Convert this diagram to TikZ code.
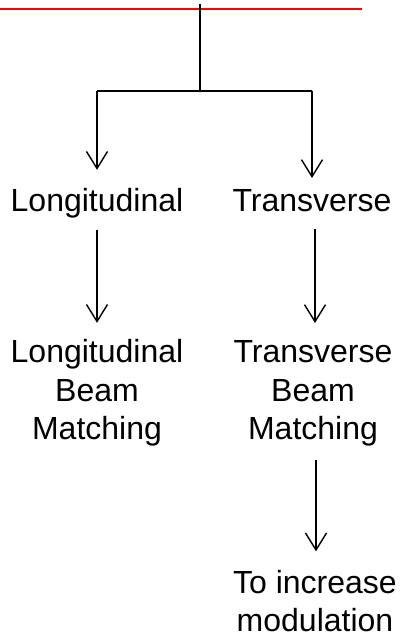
\documentclass[tikz,border=0pt]{standalone}
\usepackage{fontspec}
\setmainfont{Liberation Sans}
\usetikzlibrary{arrows.meta}
\begin{document}
\begin{tikzpicture}[x=1pt,y=1pt,
  lbl/.style={inner sep=0pt,outer sep=0pt,align=center,font=\fontsize{32}{38.5}\selectfont},
  conn/.style={black,line width=1.8pt},
  arr/.style={conn,-{Straight Barb[length=17pt,width=21pt,line width=1.4pt]}}]
\useasboundingbox (0,0) rectangle (400,638);
\coordinate (redL) at (0,629);
\coordinate (redR) at (362,629);
\draw[red,line width=1.6pt] (redL) -- (redR);
\coordinate (top) at (200,634);
\coordinate (junc) at (200,547.3);
\coordinate (jL) at (97,547.3);
\coordinate (jR) at (312,547.3);
\node[lbl,anchor=base] (L1) at (97,426) {Longitudinal};
\node[lbl,anchor=base] (T1) at (312,426) {Transverse};
\node[lbl,anchor=base] (L2) at (97,198) {Longitudinal\\Beam\\Matching};
\node[lbl,anchor=base] (T2) at (313,198) {Transverse\\Beam\\Matching};
\node[lbl,anchor=base] (T3) at (315,6) {To increase\\modulation};
\draw[conn] (top) -- (junc);
\draw[conn] (jL) -- (jR);
\draw[arr,shorten >=19pt] (jL) -- (L1.north);
\draw[arr,shorten >=12pt] (jR) -- (T1.north);
\draw[arr,shorten <=11pt,shorten >=17pt] (L1.south) -- (L2.north);
\draw[arr,shorten <=17pt,shorten >=18pt] ([xshift=3pt]T1.south) -- ([xshift=2pt]T2.north);
\draw[arr,shorten <=13pt,shorten >=19pt] ([xshift=3pt]T2.south) -- ([xshift=1pt]T3.north);
\end{tikzpicture}
\end{document}
